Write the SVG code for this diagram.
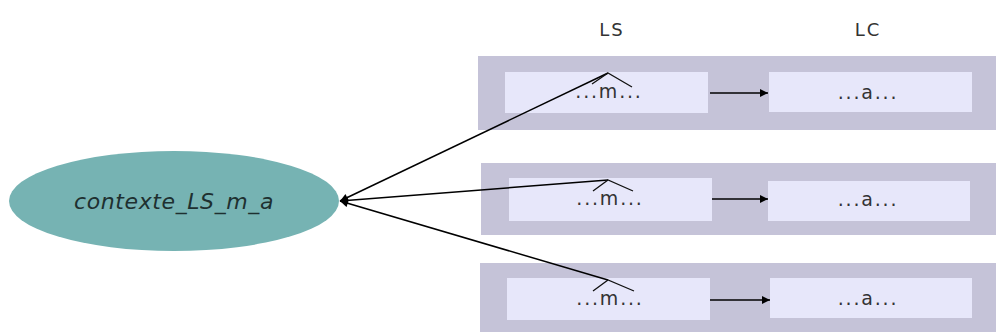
<svg xmlns="http://www.w3.org/2000/svg" width="996" height="332" viewBox="0 0 996 332">
<defs>
<style>
.band{fill:#c5c3d8}
.box{fill:#e7e7fa}
.lbl{font-family:"DejaVu Sans",Verdana,sans-serif;font-size:18px;letter-spacing:2px;fill:#333;text-anchor:middle}
.txt{font-family:"DejaVu Sans",Verdana,sans-serif;font-size:19px;letter-spacing:1.8px;fill:#333;text-anchor:middle}
.conn{stroke:#000;stroke-width:1.5;fill:none}
.caret{stroke:#111;stroke-width:1.3;fill:none}
</style>
<marker id="ah" viewBox="0 0 10 10" refX="10" refY="5" markerWidth="11" markerHeight="8" markerUnits="userSpaceOnUse" orient="auto-start-reverse">
<path d="M0,0 L10,5 L0,10 z" fill="#000"/>
</marker>
</defs>
<rect width="996" height="332" fill="#fff"/>
<text class="lbl" x="612" y="36">LS</text>
<text class="lbl" x="868" y="36">LC</text>
<g id="ellipse">
<ellipse cx="174" cy="201" rx="165" ry="50" fill="#76b3b3"/>
<text x="174" y="209" font-family="DejaVu Sans,Verdana,sans-serif" font-style="italic" font-size="22" letter-spacing="0.6" fill="#1e3030" text-anchor="middle">contexte_LS_m_a</text>
</g>
<g id="row1">
<rect class="band" x="478" y="56" width="518" height="74"/>
<g id="row1-ls"><rect class="box" x="505" y="72" width="203" height="41"/><text class="txt" x="609" y="98">...m...</text></g>
<g id="row1-lc"><rect class="box" x="769" y="72" width="203" height="40"/><text class="txt" x="868" y="99">...a...</text></g>
</g>
<g id="row2">
<rect class="band" x="481" y="163" width="515" height="72"/>
<g id="row2-ls"><rect class="box" x="509" y="178" width="203" height="43"/><text class="txt" x="610" y="205">...m...</text></g>
<g id="row2-lc"><rect class="box" x="768" y="181" width="202" height="40"/><text class="txt" x="868" y="206">...a...</text></g>
</g>
<g id="row3">
<rect class="band" x="480" y="263" width="516" height="69"/>
<g id="row3-ls"><rect class="box" x="507" y="278" width="203" height="42"/><text class="txt" x="610" y="305">...m...</text></g>
<g id="row3-lc"><rect class="box" x="770" y="278" width="202" height="40"/><text class="txt" x="868" y="305">...a...</text></g>
</g>
<g id="connectors">
<line class="conn" x1="710" y1="93" x2="768" y2="93" marker-end="url(#ah)"/>
<line class="conn" x1="712" y1="199" x2="768" y2="199" marker-end="url(#ah)"/>
<line class="conn" x1="710" y1="300" x2="770" y2="300" marker-end="url(#ah)"/>
<line class="conn" x1="340" y1="201" x2="608" y2="73" marker-start="url(#ah)"/>
<line class="conn" x1="340" y1="201" x2="608" y2="180" marker-start="url(#ah)"/>
<line class="conn" x1="340" y1="201" x2="608" y2="280" marker-start="url(#ah)"/>
<polyline class="caret" points="592,84 608,73 632,87"/>
<polyline class="caret" points="593,191 608,180 633,191"/>
<polyline class="caret" points="593,291 608,280 634,291"/>
</g>
</svg>
